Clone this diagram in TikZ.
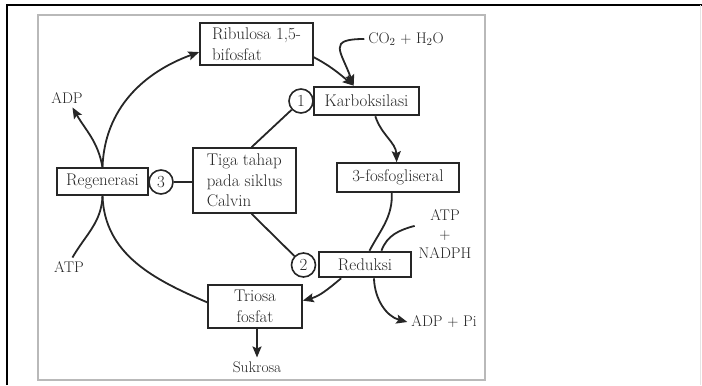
\documentclass[tikz,border=0pt]{standalone}
\usepackage{fontspec}
\usetikzlibrary{arrows.meta}
\definecolor{ink}{gray}{0.15}
\tikzset{
  box/.style={draw=ink,line width=1.6bp,inner sep=2bp,align=left,text=ink,font=\fontsize{17}{20.5}\selectfont},
  stage/.style={box,line width=2.6bp},      % the three named steps
  num/.style={circle,draw=ink,line width=1.6bp,minimum size=24bp,inner sep=0pt,text=ink,font=\fontsize{17}{20}\selectfont},
  lbl/.style={inner sep=1bp,outer sep=3bp,align=center,text=ink,font=\fontsize{15.5}{19}\selectfont},
  flow/.style={draw=ink,line width=1.8bp,-{Stealth[length=11bp,width=9bp,inset=2bp]}},
  link/.style={draw=ink,line width=1.8bp},
}

\begin{document}
\begin{tikzpicture}[x=1bp,y=1bp]
  \useasboundingbox (0,0) rectangle (702,385);
  % frames
  \draw[line width=2.2bp] (7,0) -- (7,380) -- (702,380);
  \draw[gray!20,line width=1bp] (700,380) -- (700,0);
  \draw[gray!55,line width=2bp] (38,5) rectangle (485,370);

  % boxes of the cycle
  \node[box,minimum width=113bp,minimum height=42bp] (ribu) at (256.5,341) {Ribulosa 1,5-\\bifosfat};
  \node[stage,minimum width=105bp,minimum height=28bp] (karb) at (366.5,284) {Karboksilasi};
  \node[box,minimum width=122bp,minimum height=29bp] (fosf) at (398,207.5) {3-fosfogliseral};
  \node[stage,minimum width=92bp,minimum height=25bp] (redu) at (365,120.5) {Reduksi};
  \node[box,align=center,minimum width=94bp,minimum height=43bp] (trio) at (255,78.5) {Triosa\\fosfat};
  \node[box,minimum width=91bp,minimum height=27bp] (rege) at (102.5,203.5) {Regenerasi};
  \node[box,minimum width=103bp,minimum height=65bp] (tiga) at (244.5,204.5) {Tiga tahap\\pada siklus\\Calvin};
  \foreach \n/\x/\y in {1/301/284, 2/303.5/120, 3/161/203}
    \node[num] (c\n) at (\x,\y) {\n};

  % side labels
  \node[lbl] (co2) at (406,346) {CO\textsubscript{2} + H\textsubscript{2}O};
  \node[lbl] (adp) at (67,287) {ADP};
  \node[lbl] (atp) at (69,118) {ATP};
  \node[lbl] (atpn) at (445,151) {ATP\\+\\NADPH};
  \node[lbl] (adppi) at (444,63) {ADP + Pi};
  \node[lbl] (suk) at (257,18) {Sukrosa};

  % cycle
  \draw[flow] (rege.north) to[out=88,in=200] (ribu.188);
  \draw[flow] (ribu.-13) to[out=-28,in=140] (karb.130);
  \draw[flow] (co2.west) to[out=180,in=110,looseness=2] (karb.130);
  \draw[flow] (karb.-60) to[out=-72,in=92] (fosf.95);
  \draw[link] (fosf.-112) to[out=-88,in=62] (redu.72);
  \draw[link] (atpn.165) to[out=195,in=70] (redu.40);
  \draw[flow] (redu.210) to[out=-140,in=15] (trio.7);
  \draw[flow] (redu.-57) to[out=-88,in=165] (adppi.west);
  \draw[flow] (suk.north |- trio.south) -- (suk.north);
  \draw[link] (trio.175) to[out=157,in=-88] (rege.south);
  \draw[link] (atp.70) to[out=60,in=-92] (rege.south);
  \draw[flow] (rege.north) to[out=100,in=-60] (adp.300);

  % the three steps
  \draw[link] (c3) -- (tiga.west |- c3);
  \draw[link] (tiga.78) -- (c1);
  \draw[link] (tiga.-78) -- (c2);
\end{tikzpicture}
\end{document}
